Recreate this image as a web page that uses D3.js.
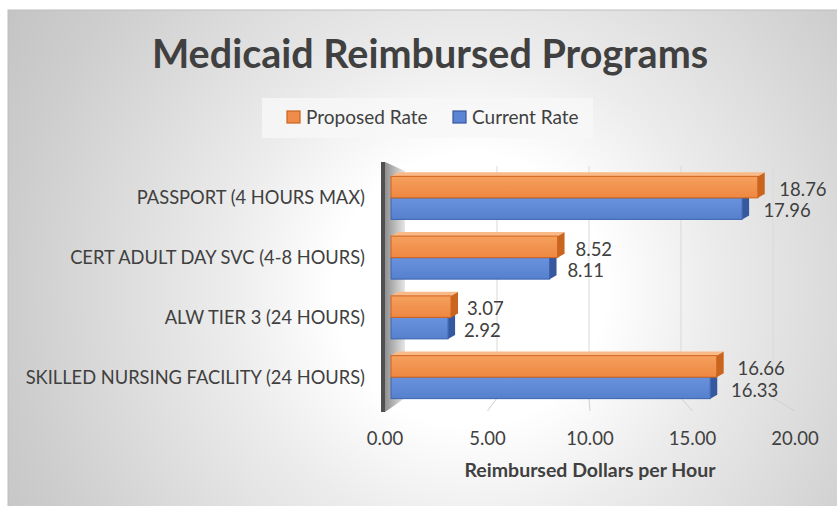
<!DOCTYPE html>
<html lang="en">
<head>
<meta charset="utf-8">
<title>Medicaid Reimbursed Programs</title>
<script src="https://d3js.org/d3.v7.min.js"></script>
<style>
  body { margin: 0; background: #fff; }
  svg { display: block; font-family: Lato, "Open Sans", sans-serif; }
  .lbl { fill: #404040; }
</style>
</head>
<body>
<div id="vis"></div>
<script>

/* Data */
/* ==== */

var categories = [
  'PASSPORT (4 HOURS MAX)',
  'CERT ADULT DAY SVC (4-8 HOURS)',
  'ALW TIER 3 (24 HOURS)',
  'SKILLED NURSING FACILITY (24 HOURS)'
];
var proposedRate = [18.76, 8.52, 3.07, 16.66];
var currentRate = [17.96, 8.11, 2.92, 16.33];
var tickValues = [0, 5, 10, 15, 20];
var seriesNames = ['Proposed Rate', 'Current Rate'];


/* Set up */
/* ====== */

var width = 837, height = 506;

var svg = d3.select('#vis').append('svg')
    .attr('width', width)
    .attr('height', height);

var defs = svg.append('defs');

// background glow
var bg = defs.append('radialGradient')
    .attr('id', 'bg')
    .attr('gradientUnits', 'userSpaceOnUse')
    .attr('cx', 470).attr('cy', 290).attr('r', 540);
[[0, '#ffffff'], [0.25, '#ffffff'], [0.45, '#ececec'], [0.85, '#cdcdcd'], [1, '#c4c4c4']]
  .forEach(function(s) { bg.append('stop').attr('offset', s[0]).attr('stop-color', s[1]); });

// left wall face
var wall = defs.append('linearGradient').attr('id', 'wall');
wall.append('stop').attr('offset', 0).attr('stop-color', '#8f8f8f');
wall.append('stop').attr('offset', 1).attr('stop-color', '#e6e6e6');

function barGrad(id, top, bottom) {
  var g = defs.append('linearGradient').attr('id', id)
      .attr('x1', 0).attr('y1', 0).attr('x2', 0).attr('y2', 1);
  g.append('stop').attr('offset', 0).attr('stop-color', top);
  g.append('stop').attr('offset', 1).attr('stop-color', bottom);
}
barGrad('orangeFront', '#f5a05e', '#ee8741');
barGrad('blueFront', '#6a93de', '#5580cc');

var colors = {
  front: ['url(#orangeFront)', 'url(#blueFront)'],
  top: ['#f9ba88', '#8aa9e6'],
  side: ['#c9651f', '#36589e'],
  edge: ['#d0631b', '#3a62b0'],
  legend: ['#f08b4a', '#5b84d4']
};

svg.append('rect')
    .attr('x', 8).attr('y', 10)
    .attr('width', width).attr('height', height)
    .attr('fill', 'url(#bg)')
    .attr('stroke', '#bdbdbd');


/* Scales */
/* ====== */

var xBar = d3.scaleLinear().domain([0, 20]).range([391, 782]);    // bar front faces
var xBack = d3.scaleLinear().domain([0, 20]).range([405, 773]);   // back wall
var xFloor = d3.scaleLinear().domain([0, 20]).range([385, 795]);  // floor front / ticks
var xLabel = d3.scaleLinear().domain([0, 20]).range([406, 804]);  // value labels

var y = d3.scaleBand()
    .domain(categories)
    .range([168, 407])
    .paddingInner(0.28)
    .paddingOuter(0.14);

var barH = y.bandwidth() / 2;
var depthX = 7, depthY = -4;
var wallTop = 162, backBottom = 398, floorFront = 411;


/* Walls and gridlines */
/* =================== */

svg.append('g').selectAll('line')
  .data(tickValues.slice(1))
  .enter().append('line')
    .attr('x1', function(d) { return xBack(d); })
    .attr('x2', function(d) { return xBack(d); })
    .attr('y1', wallTop + 4)
    .attr('y2', backBottom)
    .attr('stroke', '#d9d9d9');

svg.append('g').selectAll('line')
  .data(tickValues.slice(1))
  .enter().append('line')
    .attr('x1', function(d) { return xBack(d); })
    .attr('x2', function(d) { return xFloor(d); })
    .attr('y1', backBottom)
    .attr('y2', floorFront)
    .attr('stroke', '#d0d0d0');

// left wall inner face
svg.append('path')
    .attr('d', 'M385,' + wallTop + 'L' + xBack(0) + ',' + (wallTop + 9) +
      'L' + xBack(0) + ',' + backBottom + 'L385,' + (floorFront + 1) + 'Z')
    .attr('fill', 'url(#wall)');

// left wall front edge
svg.append('rect')
    .attr('x', 381).attr('y', wallTop)
    .attr('width', 4).attr('height', floorFront + 1 - wallTop)
    .attr('fill', '#505050');


/* Bars */
/* ==== */

var series = [proposedRate, currentRate];

// draw current first so proposed sits over it
[1, 0].forEach(function(s) {
  var g = svg.append('g').attr('class', 'series-' + s);
  var rows = categories.map(function(c, i) {
    return { cat: c, value: series[s][i], y0: y(c) + s * barH };
  });

  var bar = g.selectAll('g').data(rows).enter().append('g');

  // right end face
  bar.append('path')
      .attr('d', function(d) {
        var x1 = xBar(d.value);
        return 'M' + x1 + ',' + d.y0 + 'l' + depthX + ',' + depthY +
          'l0,' + barH + 'l' + (-depthX) + ',' + (-depthY) + 'Z';
      })
      .attr('fill', colors.side[s]);

  // top face
  bar.append('path')
      .attr('d', function(d) {
        var x0 = xBar(0), x1 = xBar(d.value);
        return 'M' + x0 + ',' + d.y0 + 'l' + depthX + ',' + depthY +
          'L' + (x1 + depthX) + ',' + (d.y0 + depthY) + 'L' + x1 + ',' + d.y0 + 'Z';
      })
      .attr('fill', colors.top[s]);

  // front face
  bar.append('rect')
      .attr('x', xBar(0))
      .attr('y', function(d) { return d.y0; })
      .attr('width', function(d) { return xBar(d.value) - xBar(0); })
      .attr('height', barH)
      .attr('fill', colors.front[s])
      .attr('stroke', colors.edge[s])
      .attr('stroke-width', 1);

  // value labels
  g.selectAll('text').data(rows).enter().append('text')
      .attr('class', 'lbl')
      .attr('x', function(d) { return xLabel(d.value); })
      .attr('y', function(d) { return d.y0 + barH / 2 + 2; })
      .attr('dy', '0.36em')
      .attr('font-size', 18.5)
      .text(function(d) { return d.value.toFixed(2); });
});


/* Axes */
/* ==== */

svg.append('g').selectAll('text')
  .data(categories)
  .enter().append('text')
    .attr('class', 'lbl')
    .attr('x', 365)
    .attr('y', function(d) { return y(d) + y.bandwidth() / 2; })
    .attr('dy', '0.36em')
    .attr('text-anchor', 'end')
    .attr('font-size', 18.3)
    .text(function(d) { return d; });

svg.append('g').selectAll('text')
  .data(tickValues)
  .enter().append('text')
    .attr('class', 'lbl')
    .attr('x', function(d) { return xFloor(d); })
    .attr('y', 445)
    .attr('text-anchor', 'middle')
    .attr('font-size', 18.5)
    .text(function(d) { return d.toFixed(2); });

svg.append('text')
    .attr('class', 'lbl')
    .attr('x', (xFloor(0) + xFloor(20)) / 2)
    .attr('y', 477)
    .attr('text-anchor', 'middle')
    .attr('font-size', 19.5)
    .attr('font-weight', 'bold')
    .text('Reimbursed Dollars per Hour');


/* Title and legend */
/* ================ */

svg.append('text')
    .attr('class', 'lbl')
    .attr('x', 430)
    .attr('y', 68)
    .attr('text-anchor', 'middle')
    .attr('font-size', 39.5)
    .attr('font-weight', 'bold')
    .text('Medicaid Reimbursed Programs');

var legend = svg.append('g');
legend.append('rect')
    .attr('x', 262).attr('y', 98)
    .attr('width', 331).attr('height', 40)
    .attr('fill', '#f7f7f7')
    .attr('fill-opacity', 0.8);

var legendX = [287, 453];
var item = legend.selectAll('g')
  .data(seriesNames)
  .enter().append('g')
    .attr('transform', function(d, i) { return 'translate(' + legendX[i] + ',111)'; });

item.append('rect')
    .attr('width', 13).attr('height', 12)
    .attr('fill', function(d, i) { return colors.legend[i]; })
    .attr('stroke', function(d, i) { return colors.side[i]; })
    .attr('stroke-width', 1.2);

item.append('text')
    .attr('class', 'lbl')
    .attr('x', 19)
    .attr('y', 6)
    .attr('dy', '0.36em')
    .attr('font-size', 19)
    .text(function(d) { return d; });

</script>
</body>
</html>
